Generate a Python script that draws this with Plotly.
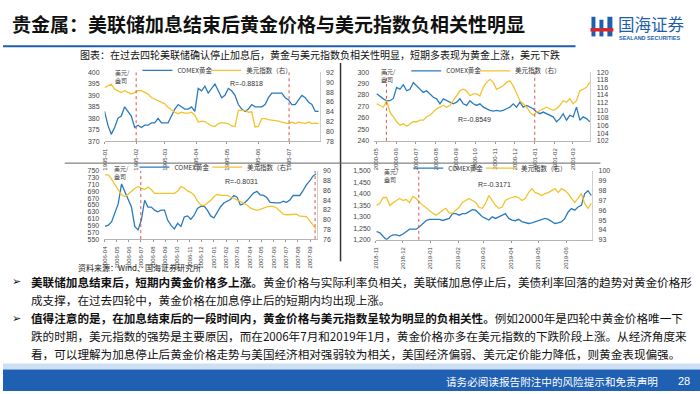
import plotly.graph_objects as go
import pandas as pd

W, H = 700, 394
CN = "Noto Sans CJK SC"
LAT = "Liberation Sans"

# ---------------- data ----------------
# Panel 1: 1995
p1_dates = ("1995-01-01", "1995-07-30")
p1_gold = [383, 377, 373, 376, 380, 381, 385, 383, 381, 376, 377, 376, 377, 377, 378, 378,
           380, 378, 378, 378, 381, 384, 386, 385, 384, 384, 385, 383, 393, 392, 394, 391,
           393, 395, 392, 389, 390, 393, 392, 390, 386, 384, 383, 384, 386, 385, 385, 385,
           386, 389, 391, 391, 391, 391, 389, 388, 386, 386, 388, 390, 389, 387, 386, 383, 383]
p1_usd = [88.9, 89.3, 89.6, 88.6, 88.3, 87.9, 88.3, 87.9, 87.6, 87.9, 88.3, 88.3, 87.9, 87.6,
          86.9, 86.6, 86.3, 85.9, 85.6, 84.9, 84.3, 83.9, 83.6, 83.9, 83.7, 83.7, 83.9, 83.3,
          81.9, 82.1, 82.0, 81.6, 81.1, 81.0, 81.6, 81.8, 81.7, 81.6, 81.1, 81.0, 84.3, 84.3,
          84.3, 83.9, 84.0, 80.9, 81.0, 82.6, 82.6, 82.4, 82.3, 82.3, 82.1, 81.9, 81.7, 81.6,
          81.9, 81.6, 81.9, 81.7, 81.6, 81.9, 81.6, 81.7, 81.6]
p1_fed = ["1995-02-01", "1995-07-01"]
p1_r = "R=-0.8818"

# Panel 2: 2000-2001
p2_dates = ("2000-05-02", "2001-03-27")
p2_gold = [281, 278.6, 276.6, 275, 275, 277, 286.6, 285, 289, 283.7, 285, 290.9, 288, 285,
           282.3, 283.7, 280.9, 278, 276.6, 272.3, 276.6, 275, 273.7, 272.3, 273.7, 276.6,
           272.3, 270.9, 275, 272.3, 270.9, 272.3, 269.4, 268, 266.6, 266, 266.6, 266, 266.6,
           268, 269.4, 272.3, 269.4, 273.7, 269.4, 270.9, 269.4, 268, 265.1, 263.7, 265.1,
           263.7, 262.3, 260.9, 256.6, 259.4, 263.7, 258, 262.3, 260.9, 269.4, 258, 260.9,
           259.4, 256.6]
p2_usd = [111.7, 111.3, 110.8, 112.5, 109.5, 108.3, 107, 106.1, 106.5, 105.8, 106.5, 107, 107,
          107.4, 107.4, 108.3, 108.7, 109.5, 110.4, 110.8, 111.3, 110.8, 111.3, 112.5, 113.8,
          115.1, 115.5, 115.1, 113.8, 114.3, 114.3, 113.8, 116, 117.3, 118.1, 117.3, 115.5,
          116, 116.4, 117.3, 117.7, 116.4, 114.3, 112.5, 111.7, 110.8, 109.5, 108.7, 109.5,
          110, 110.4, 110.8, 110.4, 110, 110.4, 111.3, 112.5, 112.1, 113, 111.7, 112.5, 115.1,
          115.5, 116, 117.3]
p2_fed = ["2000-05-17", "2001-01-01"]
p2_r = "R=-0.8549"

# Panel 3: 2006-2007
p3_dates = ("2006-04-02", "2007-09-16")
p3_gold = [587, 591, 601, 630, 654, 712, 690, 664, 644, 587, 577, 606, 664, 644, 644, 635,
           630, 635, 635, 605, 590, 580, 596, 587, 615, 618, 608, 620, 640, 646, 647, 635,
           618, 612, 628, 645, 656, 661, 666, 678, 673, 650, 654, 663, 673, 685, 690, 680,
           678, 672, 658, 656, 656, 656, 661, 658, 665, 678, 678, 678, 692, 709, 720, 735, 742]
p3_usd = [89.2, 89.2, 88.3, 87.1, 86.1, 85.1, 84.7, 85.2, 85.9, 86.4, 86.8, 86.4, 86.2, 86.7,
          86.2, 85.4, 85.4, 85.4, 85.4, 85.4, 85.4, 85.4, 85.9, 86.8, 86.5, 85.9, 85.6, 85.0,
          83.8, 83.0, 82.9, 83.4, 83.9, 84.7, 85.2, 85.0, 85.0, 85.0, 84.7, 84.4, 84.1, 83.7,
          83.4, 83.0, 82.4, 82.1, 81.9, 82.1, 82.4, 82.6, 82.7, 82.7, 82.4, 81.8, 81.1, 81.0,
          81.0, 81.1, 81.1, 80.7, 80.6, 80.6, 79.8, 78.8, 78.0]
p3_fed = ["2006-07-01", "2007-09-13"]
p3_r = "R=-0.8031"

# Panel 4: 2018-2019
p4_dates = ("2018-11-02", "2019-06-29")
p4_gold = [1236, 1230, 1214, 1200, 1214, 1221, 1221, 1217, 1225, 1236, 1246, 1246, 1246, 1257,
           1271, 1284, 1289, 1289, 1291, 1289, 1284, 1287, 1293, 1314, 1314, 1307, 1314, 1314,
           1321, 1331, 1329, 1314, 1300, 1293, 1286, 1300, 1293, 1300, 1307, 1314, 1293, 1286,
           1283, 1289, 1279, 1274, 1271, 1274, 1279, 1283, 1286, 1293, 1289, 1279, 1271, 1274,
           1279, 1293, 1321, 1336, 1329, 1343, 1350, 1400, 1414, 1393]
p4_usd = [96.5, 96.7, 97.3, 97.3, 96.5, 96.8, 97.0, 97.2, 97.0, 97.1, 96.8, 97.4, 97.2, 96.8,
          96.5, 96.3, 96.0, 95.7, 95.5, 95.8, 96.0, 96.2, 95.7, 95.7, 96.0, 96.3, 96.8, 97.0,
          97.2, 97.0, 96.8, 96.3, 96.2, 96.7, 97.5, 97.0, 96.5, 96.2, 96.3, 97.0, 97.2, 97.3,
          97.4, 97.3, 97.0, 97.2, 97.8, 98.2, 97.8, 97.7, 97.5, 97.7, 97.8, 98.0, 98.2, 97.8,
          98.2, 98.0, 97.7, 97.2, 96.8, 97.2, 97.7, 96.7, 96.2, 96.7]
p4_fed = ["2018-12-19"]
p4_r = "R=-0.3171"

series_names = ["COMEX黄金", "美元指数（右）"]
unit_label = "美元/<br>盎司"

# ---------------- layout config ----------------
def px(x):
    return x / W


def py(y):
    return 1 - y / H


panels = [
    dict(gold=p1_gold, usd=p1_usd, dates=p1_dates, fed=p1_fed, r=p1_r,
         box=(102, 318, 69.7, 139.7), xr=("1995-01-01", "1995-07-31"), t0="1995-01-01",
         yl=(370, 400, 5), yr=(78, 92, 2), fmt="", leg=(143, 212, 67.5), unit=(110, 74), rpos=(226, 80.5)),
    dict(gold=p2_gold, usd=p2_usd, dates=p2_dates, fed=p2_fed, r=p2_r,
         box=(372.7, 590, 69.3, 139.3), xr=("2000-04-28", "2001-03-28"), t0="2000-05-01",
         yl=(240, 300, 10), yr=(102, 120, 2), fmt="", leg=(413, 482, 68), unit=(378, 73), rpos=(455, 118)),
    dict(gold=p3_gold, usd=p3_usd, dates=p3_dates, fed=p3_fed, r=p3_r,
         box=(101.7, 315, 170, 239.3), xr=("2006-03-31", "2007-09-17"), t0="2006-04-01",
         yl=(550, 750, 20), yr=(76, 90, 2), fmt="", leg=(140, 213, 166), unit=(109, 172), rpos=(221, 181)),
    dict(gold=p4_gold, usd=p4_usd, dates=p4_dates, fed=p4_fed, r=p4_r,
         box=(374.3, 591.7, 170, 240), xr=("2018-11-01", "2019-06-30"), t0="2018-11-01",
         yl=(1200, 1500, 50), yr=(93, 100, 1), fmt=",", leg=(415, 488, 167), unit=(381, 175), rpos=(475, 184)),
]

BLUE = "#2a7bbd"
YELLOW = "#f2c32c"
LEG_OFFSET = 8  # legend box left edge to symbol start

fig = go.Figure()
layout = dict(width=W, height=H, autosize=False, margin=dict(l=0, r=0, t=0, b=0),
              paper_bgcolor="white", plot_bgcolor="rgba(0,0,0,0)", showlegend=True)
shapes = []
annotations = []

for k, p in enumerate(panels, start=1):
    xid = "" if k == 1 else str(k)
    yl_id = "" if k == 1 else str(2 * k - 1)
    yr_id = str(2 * k)
    leg_g = "legend" if k == 1 else f"legend{2 * k - 1}"
    leg_u = f"legend{2 * k}"
    dates = pd.date_range(p["dates"][0], p["dates"][1], periods=len(p["gold"]))
    fig.add_trace(go.Scatter(x=dates, y=p["gold"], mode="lines", name=series_names[0],
                             line=dict(color=BLUE, width=1.3), xaxis="x" + xid, yaxis="y" + yl_id,
                             legend=leg_g))
    fig.add_trace(go.Scatter(x=dates, y=p["usd"], mode="lines", name=series_names[1],
                             line=dict(color=YELLOW, width=1.3), xaxis="x" + xid, yaxis="y" + yr_id,
                             legend=leg_u))
    x0, x1, y0, y1 = p["box"]
    layout["xaxis" + xid] = dict(
        domain=[px(x0), px(x1)], anchor="y" + yl_id, type="date", range=list(p["xr"]),
        dtick="M1", tick0=p["t0"], tickformat="%Y-%m", tickangle=-90,
        tickfont=dict(size=6, family=LAT, color="#444"), showgrid=False, zeroline=False,
        showline=True, linecolor="#b5b5b5", linewidth=1, ticks="outside", ticklen=2,
        tickcolor="#999", ticklabelstandoff=2)
    layout["yaxis" + yl_id] = dict(
        domain=[py(y1), py(y0)], anchor="x" + xid, range=[p["yl"][0], p["yl"][1]],
        dtick=p["yl"][2], tick0=p["yl"][0], tickformat=p["fmt"], showgrid=False, zeroline=False,
        showline=False, tickfont=dict(size=7, family=LAT, color="#444"), ticks="",
        ticklabelstandoff=4)
    layout["yaxis" + yr_id] = dict(
        overlaying="y" + yl_id, anchor="x" + xid, side="right", range=[p["yr"][0], p["yr"][1]],
        dtick=p["yr"][2], tick0=p["yr"][0], showgrid=False, zeroline=False,
        showline=True, linecolor="#cfcfcf", linewidth=1,
        tickfont=dict(size=7, family=LAT, color="#444"), ticks="", ticklabelstandoff=4)
    for lname, lx in ((leg_g, p["leg"][0]), (leg_u, p["leg"][1])):
        layout[lname] = dict(
            x=px(lx - LEG_OFFSET), y=py(p["leg"][2]), xanchor="left", yanchor="middle",
            orientation="h", font=dict(size=6.5, family=CN, color="#333"),
            bgcolor="rgba(0,0,0,0)", itemwidth=30, tracegroupgap=0, borderwidth=0)
    for d in p["fed"]:
        shapes.append(dict(type="line", xref="x" + xid, yref="y" + yl_id + " domain",
                           x0=d, x1=d, y0=0, y1=1,
                           line=dict(color="#d9534f", width=1, dash="dot")))
    annotations.append(dict(text=unit_label, x=px(p["unit"][0]), y=py(p["unit"][1]),
                            xref="paper", yref="paper", xanchor="left", yanchor="middle",
                            showarrow=False, align="left",
                            font=dict(size=6, family=CN, color="#444")))
    annotations.append(dict(text=p["r"], x=px(p["rpos"][0]), y=py(p["rpos"][1]),
                            xref="paper", yref="paper", xanchor="left", yanchor="middle",
                            showarrow=False, font=dict(size=7, family=LAT, color="#333")))

# ---------------- slide decoration ----------------
NAVY = "#1d5eae"
shapes += [
    dict(type="line", xref="paper", yref="paper", x0=0, x1=px(575), y0=py(43), y1=py(43),
         line=dict(color=NAVY, width=2)),
    dict(type="line", xref="paper", yref="paper", x0=px(339), x1=px(339), y0=py(60), y1=py(262),
         line=dict(color="#333", width=1.5)),
    dict(type="line", xref="paper", yref="paper", x0=px(62), x1=px(600), y0=py(162), y1=py(162),
         line=dict(color="#666", width=1)),
    # footer
    dict(type="rect", xref="paper", yref="paper", x0=0, x1=1, y0=py(372), y1=py(366),
         fillcolor="#cddff3", line=dict(width=0), layer="below"),
    dict(type="rect", xref="paper", yref="paper", x0=0, x1=1, y0=0, y1=py(372),
         fillcolor="#1f60b3", line=dict(width=0), layer="below"),
    # logo icon
    dict(type="rect", xref="paper", yref="paper", x0=px(591), x1=px(595), y0=py(33), y1=py(13),
         fillcolor=NAVY, line=dict(width=0)),
    dict(type="rect", xref="paper", yref="paper", x0=px(599), x1=px(603), y0=py(33), y1=py(16),
         fillcolor=NAVY, line=dict(width=0)),
    dict(type="rect", xref="paper", yref="paper", x0=px(607), x1=px(612), y0=py(33), y1=py(13),
         fillcolor=NAVY, line=dict(width=0)),
    dict(type="rect", xref="paper", yref="paper", x0=px(590), x1=px(613), y0=py(28), y1=py(24.5),
         fillcolor="#d7262b", line=dict(width=0)),
]

annotations += [
    dict(text="<b>贵金属：美联储加息结束后黄金价格与美元指数负相关性明显</b>", x=px(7), y=py(20),
         xref="paper", yref="paper", xanchor="left", yanchor="middle", showarrow=False,
         font=dict(size=19, family=CN, color="#111")),
    dict(text="国海证券", x=px(616), y=py(20), xref="paper", yref="paper", xanchor="left",
         yanchor="middle", showarrow=False, font=dict(size=16.5, family=CN, color=NAVY)),
    dict(text="<b>SEALAND SECURITIES</b>", x=px(617), y=py(35), xref="paper", yref="paper",
         xanchor="left", yanchor="middle", showarrow=False,
         font=dict(size=5.5, family=LAT, color=NAVY)),
    dict(text="图表：在过去四轮美联储确认停止加息后，黄金与美元指数负相关性明显，短期多表现为黄金上涨，美元下跌",
         x=px(75), y=py(51), xref="paper", yref="paper", xanchor="left", yanchor="middle",
         showarrow=False, font=dict(size=10, family=CN, color="#111")),
    dict(text="资料来源：Wind、国海证券研究所", x=px(73), y=py(268), xref="paper", yref="paper",
         xanchor="left", yanchor="middle", showarrow=False,
         font=dict(size=8, family=CN, color="#222")),
]

body_lines = [
    (283, "<b>美联储加息结束后，短期内黄金价格多上涨。</b>黄金价格与实际利率负相关，美联储加息停止后，美债利率回落的趋势对黄金价格形"),
    (301, "成支撑，在过去四轮中，黄金价格在加息停止后的短期内均出现上涨。"),
    (320, "<b>值得注意的是，在加息结束后的一段时间内，黄金价格与美元指数呈较为明显的负相关性。</b>例如2000年是四轮中黄金价格唯一下"),
    (338, "跌的时期，美元指数的强势是主要原因，而在2006年7月和2019年1月，黄金价格亦多在美元指数的下跌阶段上涨。从经济角度来"),
    (356, "看，可以理解为加息停止后黄金价格走势与美国经济相对强弱较为相关，美国经济偏弱、美元定价能力降低，则黄金表现偏强。"),
]
for yy, txt in body_lines:
    annotations.append(dict(text=txt, x=px(26), y=py(yy), xref="paper", yref="paper",
                            xanchor="left", yanchor="middle", showarrow=False,
                            font=dict(size=11.6, family=CN, color="#111")))
for yy in (283, 320):
    annotations.append(dict(text="➢", x=px(7), y=py(yy), xref="paper", yref="paper",
                            xanchor="left", yanchor="middle", showarrow=False,
                            font=dict(size=11, family="DejaVu Sans", color="#111")))

annotations += [
    dict(text="请务必阅读报告附注中的风险提示和免责声明", x=px(660), y=py(384), xref="paper",
         yref="paper", xanchor="right", yanchor="middle", showarrow=False,
         font=dict(size=10.6, family=CN, color="white")),
    dict(text="28", x=px(692), y=py(384), xref="paper", yref="paper", xanchor="right",
         yanchor="middle", showarrow=False, font=dict(size=11, family=LAT, color="white")),
]

layout["shapes"] = shapes
layout["annotations"] = annotations
fig.update_layout(**layout)
fig.write_html("out.html", config={"displayModeBar": False},
               post_script="document.body.style.margin='0';document.body.style.overflow='hidden';")
